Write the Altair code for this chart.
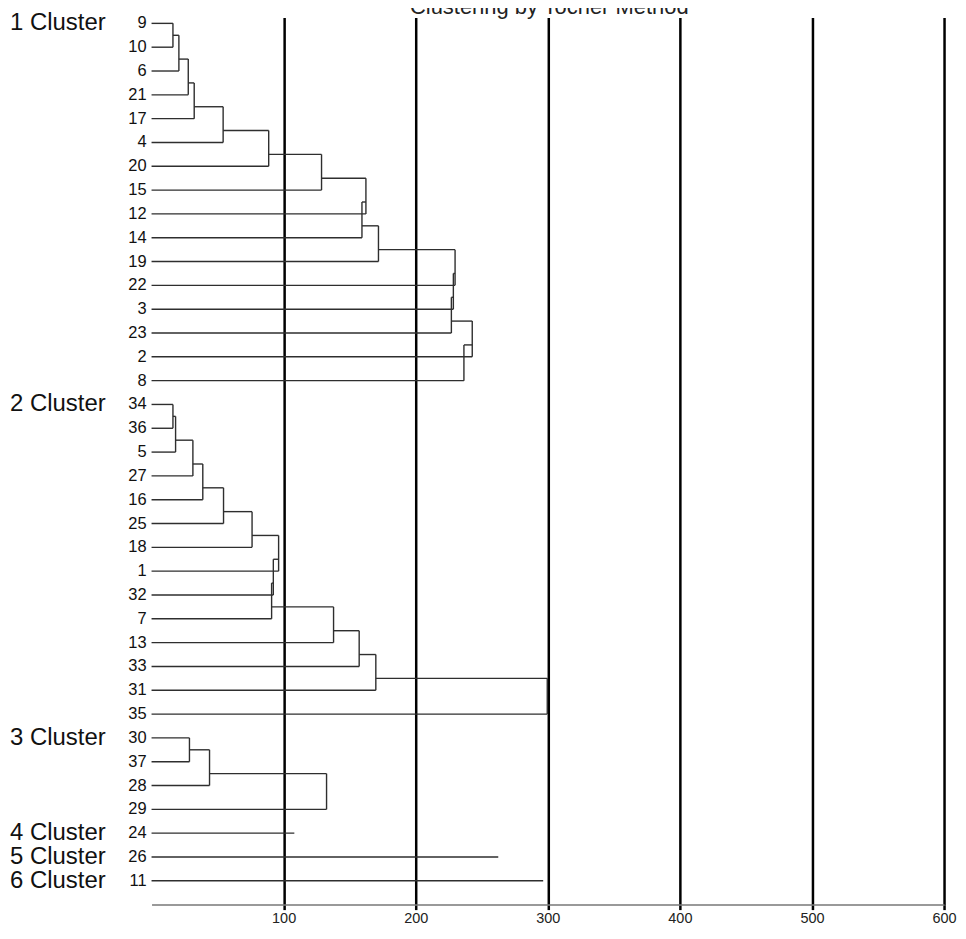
import altair as alt
import pandas as pd

# ---------------- data ----------------
leaf_labels = ["9", "10", "6", "21", "17", "4", "20", "15", "12", "14", "19", "22", "3", "23", "2", "8",
               "34", "36", "5", "27", "16", "25", "18", "1", "32", "7", "13", "33", "31", "35",
               "30", "37", "28", "29", "24", "26", "11"]
cluster_names = ["1 Cluster", "2 Cluster", "3 Cluster", "4 Cluster", "5 Cluster", "6 Cluster"]
cluster_first_row = [0, 16, 30, 34, 35, 36]

# linkage: node ids 0..36 are leaves (row order), merge k creates node 37+k
merge_left = [0, 37, 38, 39, 40, 41, 42, 43, 44, 45, 46, 47, 48, 49, 50,
              16, 52, 53, 54, 55, 56, 57, 58, 59, 60, 61, 62, 63,
              30, 65, 66]
merge_right = [1, 2, 3, 4, 5, 6, 7, 8, 9, 10, 11, 12, 13, 14, 15,
               17, 18, 19, 20, 21, 22, 23, 24, 25, 26, 27, 28, 29,
               31, 32, 33]
merge_height = [16.2, 20.7, 27.8, 32.3, 54.2, 88.7, 128.7, 162.3, 159.3, 171.8, 229.8, 228.5, 227.0, 242.8, 236.5,
                16.2, 18.2, 31.3, 38.8, 54.5, 76.1, 96.2, 92.2, 90.9, 137.8, 157.2, 169.8, 299.6,
                28.7, 43.9, 132.5]
singleton_rows = [34, 35, 36]
singleton_length = [108.1, 262.5, 296.5]
x_ticks = [100, 200, 300, 400, 500, 600]
title_text = "Clustering by Tocher Method"

# ---------------- build dendrogram segments ----------------
n = len(leaf_labels)
node_pos = {i: float(i) for i in range(n)}
node_height = {i: 0.0 for i in range(n)}
node_maxrow = {i: i for i in range(n)}
parent_height = {}
segs = []
for k, (l, r, h) in enumerate(zip(merge_left, merge_right, merge_height)):
    nid = n + k
    parent_height[l] = h
    parent_height[r] = h
    segs.append(dict(x=h, x2=h, y=node_pos[l], y2=node_pos[r]))
    node_maxrow[nid] = max(node_maxrow[l], node_maxrow[r])
    node_pos[nid] = node_maxrow[nid] - 0.5
    node_height[nid] = h
for nid, ph in parent_height.items():
    segs.append(dict(x=node_height[nid], x2=ph, y=node_pos[nid], y2=node_pos[nid]))
for r, L in zip(singleton_rows, singleton_length):
    segs.append(dict(x=0.0, x2=L, y=float(r), y2=float(r)))
seg_df = pd.DataFrame(segs)

leaf_df = pd.DataFrame({"label": leaf_labels, "row": list(range(n))})
clus_df = pd.DataFrame({"name": cluster_names, "row": cluster_first_row})

FONT = "Liberation Sans"
xscale = alt.Scale(domain=[0, 600], nice=False, zero=False)
yscale = alt.Scale(domain=[-0.25, 37.0], reverse=True, nice=False, zero=False)

x_axis = alt.Axis(values=x_ticks, grid=True, gridColor="black", gridWidth=2.5, gridOpacity=1,
                  tickColor="black", tickWidth=2.5, tickSize=5, domainColor="#777", domainWidth=1.5,
                  labelFontSize=14.5, labelColor="#222", labelFont=FONT, labelPadding=2,
                  labelFlush=False, title=None)

lines = alt.Chart(seg_df).mark_rule(color="#2e2e2e", strokeWidth=1.4).encode(
    x=alt.X("x:Q", scale=xscale, axis=x_axis),
    x2="x2:Q",
    y=alt.Y("y:Q", scale=yscale, axis=None),
    y2="y2:Q",
)

leaf_text = alt.Chart(leaf_df).mark_text(align="right", baseline="middle", fontSize=16.5,
                                         font=FONT, color="#111").encode(
    x=alt.value(-5),
    y=alt.Y("row:Q", scale=yscale, axis=None),
    text="label:N",
)

clus_text = alt.Chart(clus_df).mark_text(align="left", baseline="middle", fontSize=24,
                                         font=FONT, color="#111").encode(
    x=alt.value(-142),
    y=alt.Y("row:Q", scale=yscale, axis=None),
    text="name:N",
)

title = alt.Chart(pd.DataFrame({"t": [title_text]})).mark_text(
    align="center", baseline="alphabetic", fontSize=22, font=FONT, color="#222").encode(
    x=alt.value(399), y=alt.value(-3), text="t:N")

chart = alt.layer(lines, leaf_text, clus_text, title).properties(
    width=795, height=890,
    autosize=alt.AutoSizeParams(type="none"),
    padding={"left": 144, "top": 8, "right": 14, "bottom": 20},
).configure(background="white", view=alt.ViewConfig(stroke=None))

chart.save("out.html", embed_options={"renderer": "svg", "actions": False})
